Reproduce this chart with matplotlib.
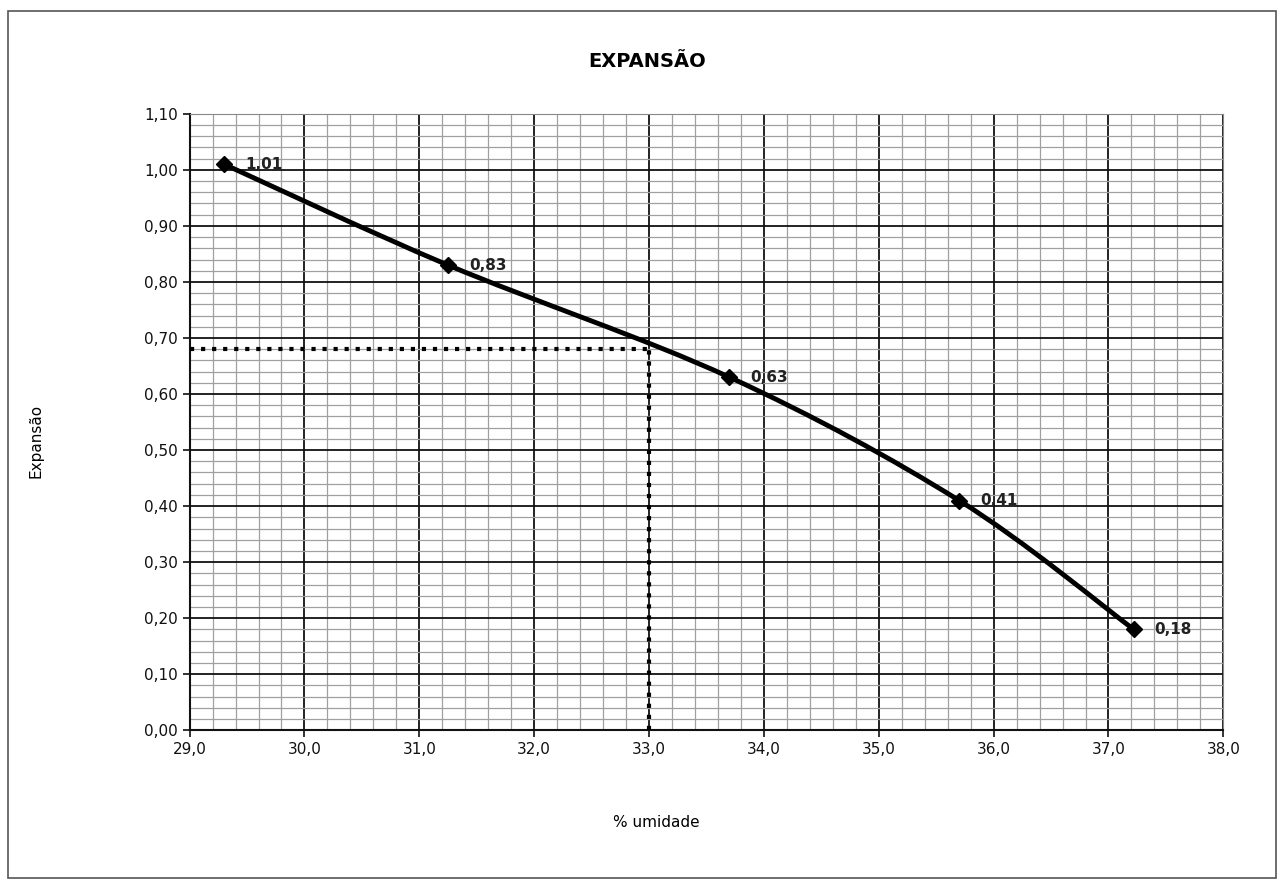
import numpy as np
import matplotlib.pyplot as plt
from matplotlib.path import Path
from matplotlib.patches import PathPatch, Rectangle
from matplotlib.ticker import MultipleLocator, FuncFormatter

# ensaio de expansao x umidade
umidade = [29.3, 31.25, 33.7, 35.7, 37.22]
expansao = [1.01, 0.83, 0.63, 0.41, 0.18]
rotulos = ['1,01', '0,83', '0,63', '0,41', '0,18']

# ponto de leitura (linha pontilhada)
umid_ref = 33.0
exp_ref = 0.68

fig = plt.figure(figsize=(12.81, 8.82), dpi=100)
ax = fig.add_axes([0.148, 0.172, 0.807, 0.699])

# moldura externa
fig.patches.append(Rectangle((0.006, 0.004), 0.99, 0.984, transform=fig.transFigure,
                             fill=False, edgecolor='#555555', linewidth=1.2))

ax.set_xlim(29.0, 38.0)
ax.set_ylim(0.0, 1.10)
ax.xaxis.set_major_locator(MultipleLocator(1.0))
ax.xaxis.set_minor_locator(MultipleLocator(0.2))
ax.yaxis.set_major_locator(MultipleLocator(0.1))
ax.yaxis.set_minor_locator(MultipleLocator(0.02))
ax.xaxis.set_major_formatter(FuncFormatter(lambda v, p: ('%.1f' % v).replace('.', ',')))
ax.yaxis.set_major_formatter(FuncFormatter(lambda v, p: ('%.2f' % v).replace('.', ',')))

ax.grid(which='minor', color='#a0a0a0', linewidth=0.9)
ax.grid(which='major', color='#111111', linewidth=1.3)
ax.set_axisbelow(True)
ax.tick_params(which='major', direction='out', length=5, width=1.2, labelsize=11, colors='#111111')
ax.tick_params(which='minor', length=0)
for s in ['top', 'right']:
    ax.spines[s].set_color('#888888')
for s in ['left', 'bottom']:
    ax.spines[s].set_color('#111111')
    ax.spines[s].set_linewidth(1.5)

# curva suavizada (bezier entre os pontos)
x = np.array(umidade)
y = np.array(expansao)
verts = [(x[0], y[0])]
codes = [Path.MOVETO]
n = len(x)
for i in range(n - 1):
    p0 = np.array([x[max(i - 1, 0)], y[max(i - 1, 0)]])
    p1 = np.array([x[i], y[i]])
    p2 = np.array([x[i + 1], y[i + 1]])
    p3 = np.array([x[min(i + 2, n - 1)], y[min(i + 2, n - 1)]])
    c1 = p1 + (p2 - p0) / 6.0
    c2 = p2 - (p3 - p1) / 6.0
    verts += [tuple(c1), tuple(c2), tuple(p2)]
    codes += [Path.CURVE4] * 3
ax.add_patch(PathPatch(Path(verts, codes), facecolor='none', edgecolor='black',
                       linewidth=3.5, capstyle='round', zorder=3))
ax.plot(umidade, expansao, linestyle='none', marker='D', markersize=8, color='black', zorder=4)

for xi, yi, t in zip(umidade, expansao, rotulos):
    ax.annotate(t, (xi, yi), xytext=(15, 0), textcoords='offset points',
                ha='left', va='center', fontsize=11, fontweight='bold', color='#222222', zorder=5)

# leitura
ax.plot([29.0, umid_ref], [exp_ref, exp_ref], linestyle=':', color='black', linewidth=3, zorder=3)
ax.plot([umid_ref, umid_ref], [0.0, exp_ref], linestyle=':', color='black', linewidth=3, zorder=3)

fig.text(0.505, 0.93, 'EXPANSÃO', ha='center', va='center', fontsize=14, fontweight='bold')
fig.text(0.028, 0.5, 'Expansão', rotation=90, ha='center', va='center', fontsize=11)
fig.text(0.512, 0.068, '% umidade', ha='center', va='center', fontsize=11)

fig.savefig('out.png', dpi=100)
